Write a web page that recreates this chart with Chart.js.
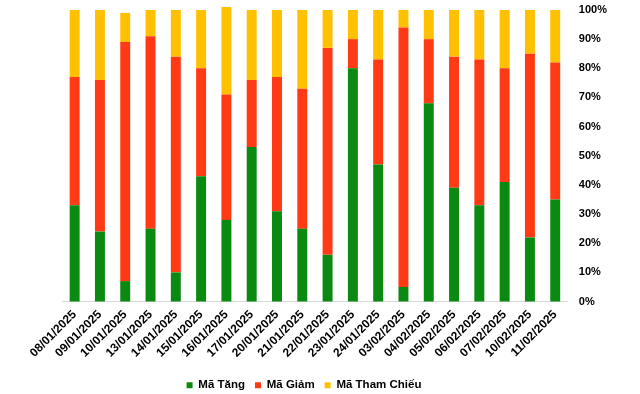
<!DOCTYPE html>
<html>
<head>
<meta charset="utf-8">
<script src="https://cdn.jsdelivr.net/npm/chart.js@4"></script>
<style>
  html, body { margin: 0; padding: 0; background: #fff; }
  #wrap { width: 640px; height: 394px; }
</style>
</head>
<body>
<div id="wrap"><canvas id="stockChart" width="640" height="394"></canvas></div>
<script>
// Ngày giao dịch
const dates = [
  "08/01/2025", "09/01/2025", "10/01/2025", "13/01/2025", "14/01/2025",
  "15/01/2025", "16/01/2025", "17/01/2025", "20/01/2025", "21/01/2025",
  "22/01/2025", "23/01/2025", "24/01/2025", "03/02/2025", "04/02/2025",
  "05/02/2025", "06/02/2025", "07/02/2025", "10/02/2025", "11/02/2025"
];
// Tỷ lệ (%) mã tăng / giảm / tham chiếu
const tang = [33, 24, 7, 25, 10, 43, 28, 53, 31, 25, 16, 80, 47, 5, 68, 39, 33, 41, 22, 35];
const giam = [44, 52, 82, 66, 74, 37, 43, 23, 46, 48, 71, 10, 36, 89, 22, 45, 50, 39, 63, 47];
const thamChieu = [23, 24, 10, 9, 16, 20, 30, 24, 23, 27, 13, 10, 17, 6, 10, 16, 17, 20, 15, 18];
const yTicks = [0, 10, 20, 30, 40, 50, 60, 70, 80, 90, 100];

const fontFamily = "'Liberation Sans', Arial, sans-serif";

function makeSet(label, data, color) {
  return {
    label: label,
    data: data,
    backgroundColor: color,
    borderWidth: 0,
    barPercentage: 0.394,
    categoryPercentage: 1,
    clip: false
  };
}

// dời chú thích sang trái cho giống bản gốc
const legendShift = {
  id: "legendShift",
  afterLayout(chart) {
    const lg = chart.legend;
    if (!lg) return;
    const cur = (lg.left + lg.right) / 2;
    const dx = 304 - cur;
    lg.left += dx;
    lg.right += dx;
  }
};

const ctx = document.getElementById("stockChart").getContext("2d");
new Chart(ctx, {
  type: "bar",
  data: {
    labels: dates,
    datasets: [
      makeSet("Mã Tăng", tang, "#0b8a12"),
      makeSet("Mã Giảm", giam, "#ff3a14"),
      makeSet("Mã Tham Chiếu", thamChieu, "#ffc000")
    ]
  },
  plugins: [legendShift],
  options: {
    responsive: false,
    animation: false,
    layout: { padding: { left: 62, right: 22, top: 10, bottom: -7 } },
    plugins: {
      tooltip: { enabled: false },
      legend: {
        position: "bottom",
        labels: {
          boxWidth: 6,
          boxHeight: 6,
          padding: 10,
          color: "#000",
          font: { family: fontFamily, size: 11.5, weight: "bold" }
        }
      }
    },
    scales: {
      x: {
        stacked: true,
        grid: { display: false, drawTicks: false },
        border: { display: true, color: "#d9d9d9", width: 1 },
        afterFit: (axis) => { axis.height = 68; },
        ticks: {
          minRotation: 45,
          maxRotation: 45,
          padding: 6,
          color: "#000",
          font: { family: fontFamily, size: 12, weight: "bold" }
        }
      },
      y: {
        stacked: true,
        position: "right",
        min: 0,
        max: 100,
        afterBuildTicks: (axis) => { axis.ticks = yTicks.map(v => ({ value: v })); },
        afterFit: (axis) => { axis.paddingTop = 0; axis.paddingBottom = 0; },
        grid: { display: false, drawTicks: false },
        border: { display: false },
        ticks: {
          padding: 11,
          color: "#000",
          font: { family: fontFamily, size: 11, weight: "bold" },
          callback: (v) => v + "%"
        }
      }
    }
  }
});
</script>
</body>
</html>
